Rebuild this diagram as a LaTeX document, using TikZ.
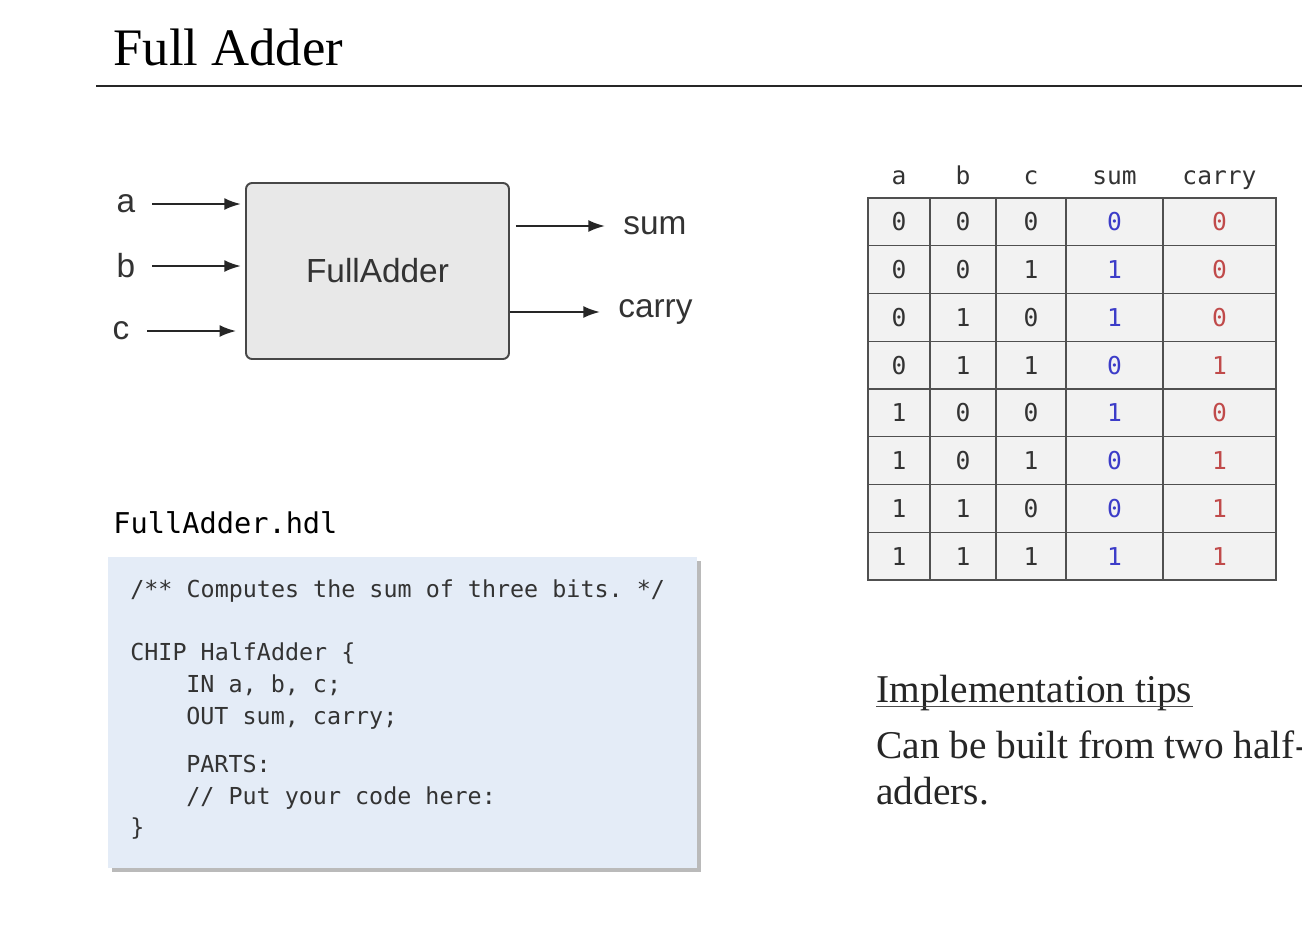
\documentclass[tikz,border=0pt]{standalone}
\usepackage{fontspec}
\setmainfont{Liberation Serif}
\setsansfont{Liberation Sans}
\setmonofont{DejaVu Sans Mono}
\usepackage{tikz}
\usetikzlibrary{arrows.meta,positioning,shadows}
\definecolor{chipfill}{HTML}{E8E8E8}
\definecolor{chipedge}{HTML}{474747}
\definecolor{cellfill}{HTML}{F2F2F2}
\definecolor{gridline}{HTML}{505050}
\definecolor{codefill}{HTML}{E4ECF7}
\definecolor{ink}{HTML}{333333}
\definecolor{sumblue}{HTML}{3C3CC8}
\definecolor{carryred}{HTML}{C04A4A}
\tikzset{
  heading/.style={anchor=base west,inner sep=0pt,font=\fontsize{30}{34}\selectfont},
  rulebar/.style={line width=1.2pt,black!85},
  chip/.style={draw=chipedge,line width=1.1pt,rounded corners=3.4pt,fill=chipfill,minimum width=5.26cm,minimum height=3.52cm,font=\sffamily\fontsize{19}{22}\selectfont,text=ink},
  pin/.style={inner sep=0pt,font=\sffamily\fontsize{19}{22}\selectfont,text=ink},
  wire/.style={-{Latex[length=9.5pt,width=6.8pt]},line width=1.3pt,black!85},
  gridrule/.style={draw=gridline,line width=0.8pt},
  head/.style={anchor=base,inner sep=0pt,font=\ttfamily\fontsize{14}{16}\selectfont,text=ink},
  cell/.style={inner sep=0pt,font=\ttfamily\fontsize{14}{16}\selectfont,text=ink},
  codebox/.style={fill=codefill,minimum width=11.78cm,minimum height=6.22cm,drop shadow={shadow xshift=2.5pt,shadow yshift=-2.5pt,fill=black!45,opacity=0.6}},
  filename/.style={anchor=base west,inner sep=0pt,font=\ttfamily\fontsize{16.3}{18}\selectfont,text=black},
  codeline/.style={anchor=base west,inner sep=0pt,font=\ttfamily\fontsize{13.3}{16}\selectfont,text=ink},
  tips/.style={anchor=base west,inner sep=0pt,font=\fontsize{22.4}{26}\selectfont,text=black!85},
  underbar/.style={line width=1pt,black!70}
}

\begin{document}
\begin{tikzpicture}[x=0.02cm,y=-0.02cm]
  \useasboundingbox[fill=white] (0,0) rectangle (1302,948);

  % heading
  \node[heading] (title) at (113,65) {Full Adder};
  \draw[rulebar] (96,86) -- (1302,86);

  % chip with its pins
  \node[chip] (fa) at (377.5,271) {FullAdder};
  \node[pin] (ina) at (126,204) {a};
  \node[pin] (inb) at (126,266) {b};
  \node[pin] (inc) at (121,331) {c};
  \node[pin,anchor=west] (osum) at (623,226) {sum};
  \node[pin,anchor=west] (ocarry) at (618,312) {carry};

  \draw[wire,shorten <=9.4pt,shorten >=2.3pt] (ina) -- (ina -| fa.west);
  \draw[wire,shorten <=9.4pt,shorten >=2.3pt] (inb) -- (inb -| fa.west);
  \draw[wire,shorten <=10pt,shorten >=5pt] (inc) -- (inc -| fa.west);
  \draw[wire,shorten <=3.4pt,shorten >=10.2pt] (osum -| fa.east) -- (osum);
  \draw[wire,shorten >=10.2pt] (ocarry -| fa.east) -- (ocarry);

  % truth table
  \fill[cellfill] (868,198) rectangle (1276,580);
  \foreach \x in {930,996,1066,1163}
    \draw[gridrule] (\x,198) -- (\x,580);
  \foreach \r in {1,...,7}
    \draw[gridrule] (868,{198+47.75*\r}) -- (1276,{198+47.75*\r});
  \draw[gridrule] (868,198) rectangle (1276,580);

  \foreach \h/\x in {a/899,b/963,c/1031,sum/1114.5,carry/1219.5}
    \node[head] (h\h) at (\x,184) {\h};

  \foreach \va/\vb/\vc/\vs/\vk [count=\r] in
      {0/0/0/0/0,0/0/1/1/0,0/1/0/1/0,0/1/1/0/1,1/0/0/1/0,1/0/1/0/1,1/1/0/0/1,1/1/1/1/1}{
    \node[cell] (a\r) at (899,{198+47.75*(\r-0.5)}) {\va};
    \node[cell] (b\r) at (963,{198+47.75*(\r-0.5)}) {\vb};
    \node[cell] (c\r) at (1031,{198+47.75*(\r-0.5)}) {\vc};
    \node[cell,text=sumblue] (s\r) at (1114.5,{198+47.75*(\r-0.5)}) {\vs};
    \node[cell,text=carryred] (k\r) at (1219.5,{198+47.75*(\r-0.5)}) {\vk};
  }

  % hdl listing
  \node[filename] (fname) at (113,533) {FullAdder.hdl};
  \node[codebox] (hdl) at (402.5,712.5) {};
  \node[codeline] (l1) at (130,597) {/** Computes the sum of three bits. */};
  \node[codeline] (l2) at (130,660) {CHIP HalfAdder \{};
  \node[codeline] (l3) at (186,692) {IN a, b, c;};
  \node[codeline] (l4) at (186,724) {OUT sum, carry;};
  \node[codeline] (l5) at (186,772) {PARTS:};
  \node[codeline] (l6) at (186,804) {// Put your code here:};
  \node[codeline] (l7) at (130,835) {\}};

  % tips
  \node[tips] (tiphead) at (876,702) {Implementation tips};
  \draw[underbar] ([yshift=-2.5pt]tiphead.base west) -- ([yshift=-2.5pt]tiphead.base east);
  \node[tips] (tip1) at (876,758) {Can be built from two half-};
  \node[tips] (tip2) at (876,804) {adders.};
\end{tikzpicture}
\end{document}
